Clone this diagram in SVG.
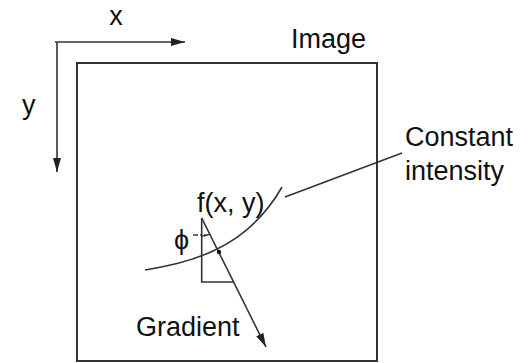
<svg xmlns="http://www.w3.org/2000/svg" width="531" height="363" viewBox="0 0 531 363">
<defs>
<style>
.t{font-family:"Liberation Sans",Arial,sans-serif;font-size:27px;fill:#111}
.ln{stroke:#333;stroke-width:1.6;fill:none}
</style>
<marker id="ah" viewBox="0 0 14 8" refX="14" refY="4" markerWidth="14" markerHeight="8" markerUnits="userSpaceOnUse" orient="auto">
<path d="M0,0 L14,4 L0,8 z" fill="#222"/>
</marker>
</defs>
<rect width="531" height="363" fill="#fff"/>
<g id="image">
<rect x="77" y="63" width="300" height="298" fill="none" stroke="#333" stroke-width="2"/>
<text class="t" x="291" y="48">Image</text>
</g>
<g id="axes">
<text class="t" x="116" y="25" text-anchor="middle">x</text>
<text class="t" x="22" y="114">y</text>
</g>
<g id="connectors">
<path class="ln" d="M55,42 H185" marker-end="url(#ah)"/>
<path class="ln" d="M57,42 V172" marker-end="url(#ah)"/>
<path class="ln" d="M145,270 C185,263 245,252 282,187"/>
<path class="ln" d="M285,197 L402,153"/>
<path class="ln" d="M201.7,218 V282 H233.5"/>
<path class="ln" d="M201.7,218 L266,347" marker-end="url(#ah)"/>
<path class="ln" d="M193,235 H206" stroke-dasharray="5,2,2,2"/>
<path class="ln" d="M201.7,236 A18,18 0 0 0 209.7,234.1"/>
<circle cx="219" cy="252" r="2.2" fill="#111"/>
</g>
<g id="labels">
<text class="t" x="405" y="146">Constant</text>
<text class="t" x="405" y="180">intensity</text>
<text class="t" x="197" y="212">f(x, y)</text>
<text class="t" x="136" y="336">Gradient</text>
<text class="t" x="174" y="249">ϕ</text>
</g>
</svg>
